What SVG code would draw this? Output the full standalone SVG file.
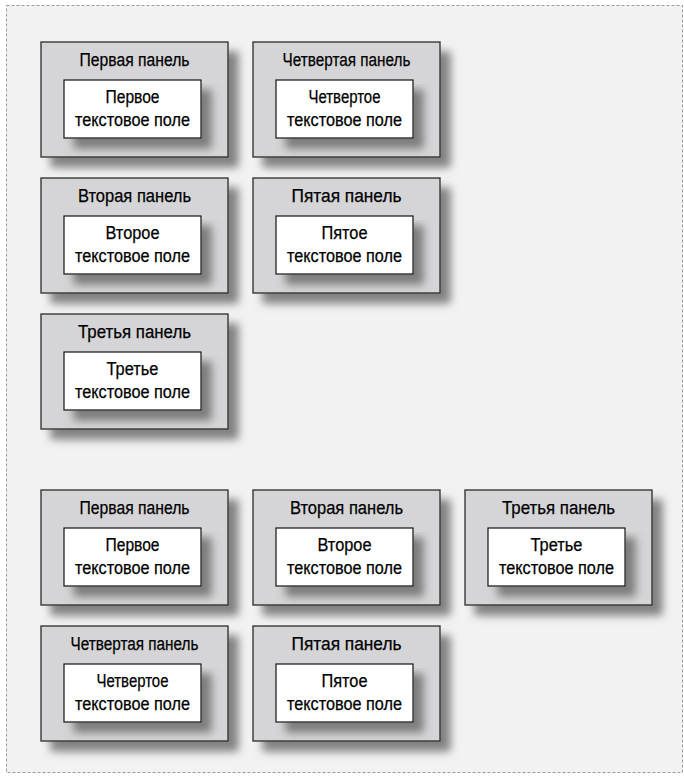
<svg xmlns="http://www.w3.org/2000/svg" width="684" height="778" viewBox="0 0 684 778">
<defs>
<filter id="sh" x="-10%" y="-10%" width="135%" height="150%">
<feGaussianBlur in="SourceAlpha" stdDeviation="4.5"/>
<feOffset dx="10" dy="10" result="b"/>
<feFlood flood-color="#666" flood-opacity="0.8"/>
<feComposite in2="b" operator="in" result="s"/>
<feMerge><feMergeNode in="s"/><feMergeNode in="SourceGraphic"/></feMerge>
</filter>
<g id="panelShape">
<rect x="0" y="0" width="187" height="115" class="panel"/>
<rect x="23" y="38" width="137" height="58" class="box"/>
</g>
</defs>
<style>
.bg{fill:#f2f2f2;stroke:#9a9a9a;stroke-width:1;stroke-dasharray:3 2}
.panel{fill:#d5d5d7;stroke:#2a2a2a;stroke-width:1.3;filter:url(#sh)}
.box{fill:#fff;stroke:#111;stroke-width:1.2;filter:url(#sh)}
text{font-family:"Liberation Sans",Arial,sans-serif;font-size:18px;fill:#000;stroke:#000;stroke-width:0.25;text-anchor:middle}
</style>
<rect class="bg" x="6.5" y="5.5" width="676" height="767"/>
<g id="connectors"/>
<g id="top-p1" transform="translate(41,42)"><use href="#panelShape"/><text x="93.5" y="24" textLength="110" lengthAdjust="spacingAndGlyphs">Первая панель</text><text x="91.5" y="61" textLength="54" lengthAdjust="spacingAndGlyphs">Первое</text><text x="91.5" y="84" textLength="115" lengthAdjust="spacingAndGlyphs">текстовое поле</text></g>
<g id="top-p4" transform="translate(253,42)"><use href="#panelShape"/><text x="93.5" y="24" textLength="128" lengthAdjust="spacingAndGlyphs">Четвертая панель</text><text x="91.5" y="61" textLength="72" lengthAdjust="spacingAndGlyphs">Четвертое</text><text x="91.5" y="84" textLength="115" lengthAdjust="spacingAndGlyphs">текстовое поле</text></g>
<g id="top-p2" transform="translate(41,178)"><use href="#panelShape"/><text x="93.5" y="24" textLength="113" lengthAdjust="spacingAndGlyphs">Вторая панель</text><text x="91.5" y="61" textLength="54" lengthAdjust="spacingAndGlyphs">Второе</text><text x="91.5" y="84" textLength="115" lengthAdjust="spacingAndGlyphs">текстовое поле</text></g>
<g id="top-p5" transform="translate(253,178)"><use href="#panelShape"/><text x="93.5" y="24" textLength="110" lengthAdjust="spacingAndGlyphs">Пятая панель</text><text x="91.5" y="61" textLength="46" lengthAdjust="spacingAndGlyphs">Пятое</text><text x="91.5" y="84" textLength="115" lengthAdjust="spacingAndGlyphs">текстовое поле</text></g>
<g id="top-p3" transform="translate(41,314)"><use href="#panelShape"/><text x="93.5" y="24" textLength="113" lengthAdjust="spacingAndGlyphs">Третья панель</text><text x="91.5" y="61" textLength="52" lengthAdjust="spacingAndGlyphs">Третье</text><text x="91.5" y="84" textLength="115" lengthAdjust="spacingAndGlyphs">текстовое поле</text></g>
<g id="bot-p1" transform="translate(41,490)"><use href="#panelShape"/><text x="93.5" y="24" textLength="110" lengthAdjust="spacingAndGlyphs">Первая панель</text><text x="91.5" y="61" textLength="54" lengthAdjust="spacingAndGlyphs">Первое</text><text x="91.5" y="84" textLength="115" lengthAdjust="spacingAndGlyphs">текстовое поле</text></g>
<g id="bot-p2" transform="translate(253,490)"><use href="#panelShape"/><text x="93.5" y="24" textLength="113" lengthAdjust="spacingAndGlyphs">Вторая панель</text><text x="91.5" y="61" textLength="54" lengthAdjust="spacingAndGlyphs">Второе</text><text x="91.5" y="84" textLength="115" lengthAdjust="spacingAndGlyphs">текстовое поле</text></g>
<g id="bot-p3" transform="translate(465,490)"><use href="#panelShape"/><text x="93.5" y="24" textLength="113" lengthAdjust="spacingAndGlyphs">Третья панель</text><text x="91.5" y="61" textLength="52" lengthAdjust="spacingAndGlyphs">Третье</text><text x="91.5" y="84" textLength="115" lengthAdjust="spacingAndGlyphs">текстовое поле</text></g>
<g id="bot-p4" transform="translate(41,626)"><use href="#panelShape"/><text x="93.5" y="24" textLength="128" lengthAdjust="spacingAndGlyphs">Четвертая панель</text><text x="91.5" y="61" textLength="72" lengthAdjust="spacingAndGlyphs">Четвертое</text><text x="91.5" y="84" textLength="115" lengthAdjust="spacingAndGlyphs">текстовое поле</text></g>
<g id="bot-p5" transform="translate(253,626)"><use href="#panelShape"/><text x="93.5" y="24" textLength="110" lengthAdjust="spacingAndGlyphs">Пятая панель</text><text x="91.5" y="61" textLength="46" lengthAdjust="spacingAndGlyphs">Пятое</text><text x="91.5" y="84" textLength="115" lengthAdjust="spacingAndGlyphs">текстовое поле</text></g>
</svg>
